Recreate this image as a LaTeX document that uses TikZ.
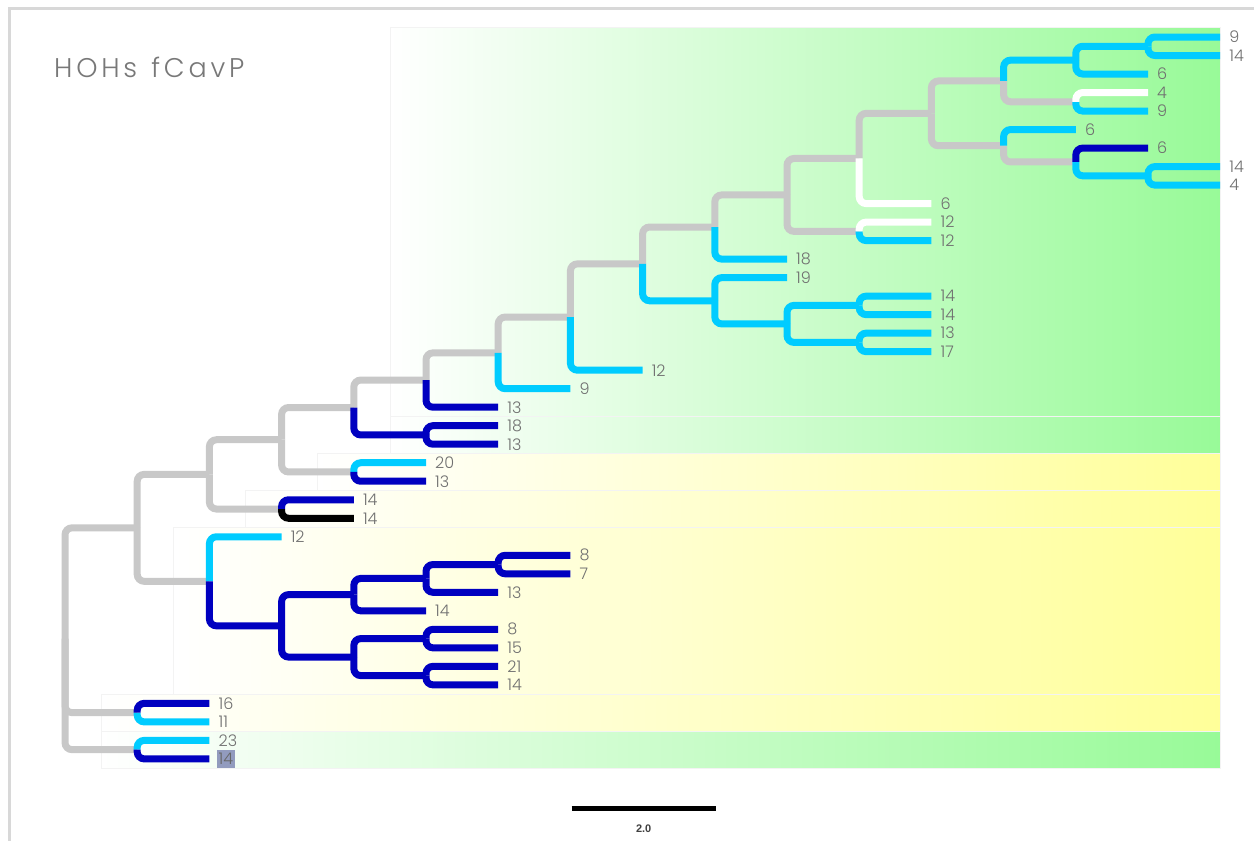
\documentclass[tikz,border=0pt]{standalone}
\usepackage{fontspec}
\setmainfont{Poppins}[UprightFont=* Light]
\newfontfamily\labfont{Poppins}[UprightFont=* Light]
\newfontfamily\titlefont{Poppins}[UprightFont=* Light, LetterSpace=14]
\newfontfamily\barfont{Liberation Sans}
\definecolor{brgray}{RGB}{200,200,200}
\definecolor{brcyan}{RGB}{0,204,255}
\definecolor{brblue}{RGB}{0,0,192}
\definecolor{labgray}{RGB}{112,112,112}
\definecolor{bggreen}{RGB}{152,250,152}
\definecolor{bgyellow}{RGB}{255,255,153}
\definecolor{boxline}{RGB}{243,243,243}
\definecolor{framegray}{RGB}{216,216,216}
\definecolor{hlfill}{RGB}{146,155,190}
\definecolor{titlegray}{RGB}{120,120,120}
% leaf tip: coordinate plus its label
\newcommand\tipleaf[4]{\coordinate (l#1) at ({lx(#2)},{ly(#3)}); \node[lab] (t#1) at (l#1) {#4};}
% internal node of the tree at level #2, row position #3
\newcommand\inode[3]{\coordinate (#1) at ({lx(#2)},{ly(#3)});}
\begin{document}
\begin{tikzpicture}[x=1pt,y=-1pt,
  declare function={lx(\k)=65+72.2*\k; ly(\i)=37+18.51*(\i-1);},
  br/.style={line width=7pt, rounded corners=7pt, line cap=butt},
  gr/.style={br, draw=brgray},
  cy/.style={br, draw=brcyan},
  db/.style={br, draw=brblue},
  wh/.style={br, draw=white},
  bk/.style={br, draw=black},
  lab/.style={anchor=west, xshift=9pt, inner sep=0pt, text=labgray, font=\labfont\fontsize{16}{16}\selectfont},
  gbox/.style={draw=boxline, line width=0.5pt, left color=white, right color=bggreen},
  ybox/.style={draw=boxline, line width=0.5pt, left color=white, right color=bgyellow},
]
\useasboundingbox (0,0) rectangle (1254,841);
\fill[white] (0,0) rectangle (1254,841);

% clade highlight bands
\shadedraw[gbox] ({lx(4.5)},{ly(0.5)}) rectangle ({lx(16)},{ly(21.5)});
\shadedraw[gbox] ({lx(4.5)},{ly(21.5)}) rectangle ({lx(16)},{ly(23.5)});
\shadedraw[ybox] ({lx(3.5)},{ly(23.5)}) rectangle ({lx(16)},{ly(25.5)});
\shadedraw[ybox] ({lx(2.5)},{ly(25.5)}) rectangle ({lx(16)},{ly(27.5)});
\shadedraw[ybox] ({lx(1.5)},{ly(27.5)}) rectangle ({lx(16)},{ly(36.5)});
\shadedraw[ybox] ({lx(0.5)},{ly(36.5)}) rectangle ({lx(16)},{ly(38.5)});
\shadedraw[gbox] ({lx(0.5)},{ly(38.5)}) rectangle ({lx(16)},{ly(40.5)});

% frame
\draw[framegray, line width=3pt] (9,841) -- (9,8.5) -- (1254,8.5);

% title
\node[anchor=west, inner sep=0pt, text=titlegray, font=\titlefont\fontsize{27}{27}\selectfont] (title) at (54,67) {HOHs\hspace{3pt} fCavP};

% internal nodes
\inode{c1x2}{15}{1.5}
\inode{c1x3}{14}{2.25}
\inode{c4x5}{14}{4.5}
\inode{c1x5}{13}{3.375}
\inode{c8x9}{15}{8.5}
\inode{c7x9}{14}{7.75}
\inode{c6x9}{13}{6.875}
\inode{c1x9}{12}{5.125}
\inode{c1x10}{11}{7.5625}
\inode{c11x12}{11}{11.5}
\inode{c1x12}{10}{9.53125}
\inode{c1x13}{9}{11.265625}
\inode{c15x16}{11}{15.5}
\inode{c17x18}{11}{17.5}
\inode{c15x18}{10}{16.5}
\inode{c14x18}{9}{15.25}
\inode{c1x18}{8}{13.2578125}
\inode{c1x19}{7}{16.12890625}
\inode{c1x20}{6}{18.064453}
\inode{c1x21}{5}{19.532227}
\inode{c22x23}{5}{22.5}
\inode{c1x23}{4}{21.016113}
\inode{c24x25}{4}{24.5}
\inode{c1x25}{3}{22.758057}
\inode{c26x27}{3}{26.5}
\inode{c1x27}{2}{24.629028}
\inode{c29x30}{6}{29.5}
\inode{c29x31}{5}{30.25}
\inode{c29x32}{4}{31.125}
\inode{c33x34}{5}{33.5}
\inode{c35x36}{5}{35.5}
\inode{c33x36}{4}{34.5}
\inode{c29x36}{3}{32.8125}
\inode{c28x36}{2}{30.40625}
\inode{c1x36}{1}{27.517654}
\inode{c37x38}{1}{37.5}
\inode{c39x40}{1}{39.5}
\inode{root}{0}{33.51}

% leaves
\tipleaf{1}{16}{1}{9}
\tipleaf{2}{16}{2}{14}
\tipleaf{3}{15}{3}{6}
\tipleaf{4}{15}{4}{4}
\tipleaf{5}{15}{5}{9}
\tipleaf{6}{14}{6}{6}
\tipleaf{7}{15}{7}{6}
\tipleaf{8}{16}{8}{14}
\tipleaf{9}{16}{9}{4}
\tipleaf{10}{12}{10}{6}
\tipleaf{11}{12}{11}{12}
\tipleaf{12}{12}{12}{12}
\tipleaf{13}{10}{13}{18}
\tipleaf{14}{10}{14}{19}
\tipleaf{15}{12}{15}{14}
\tipleaf{16}{12}{16}{14}
\tipleaf{17}{12}{17}{13}
\tipleaf{18}{12}{18}{17}
\tipleaf{19}{8}{19}{12}
\tipleaf{20}{7}{20}{9}
\tipleaf{21}{6}{21}{13}
\tipleaf{22}{6}{22}{18}
\tipleaf{23}{6}{23}{13}
\tipleaf{24}{5}{24}{20}
\tipleaf{25}{5}{25}{13}
\tipleaf{26}{4}{26}{14}
\tipleaf{27}{4}{27}{14}
\tipleaf{28}{3}{28}{12}
\tipleaf{29}{7}{29}{8}
\tipleaf{30}{7}{30}{7}
\tipleaf{31}{6}{31}{13}
\tipleaf{32}{5}{32}{14}
\tipleaf{33}{6}{33}{8}
\tipleaf{34}{6}{34}{15}
\tipleaf{35}{6}{35}{21}
\tipleaf{36}{6}{36}{14}
\tipleaf{37}{2}{37}{16}
\tipleaf{38}{2}{38}{11}
\tipleaf{39}{2}{39}{23}
\coordinate (l40) at ({lx(2)},{ly(40)});
\node[lab, fill=hlfill, inner xsep=1.5pt, inner ysep=3pt, xshift=-1.5pt, text=black!60] (t40) at (l40) {14};

% grey backbone branches
\foreach \p/\c in {c1x5/c4x5, c1x9/c1x5, c1x9/c6x9, c6x9/c7x9, c1x10/c1x9,
  c1x12/c1x10, c1x12/c11x12, c1x13/c1x12, c1x18/c1x13, c1x19/c1x18,
  c1x20/c1x19, c1x21/c1x20, c1x23/c1x21, c1x25/c1x23, c1x25/c24x25,
  c1x27/c1x25, c1x27/c26x27, c1x36/c1x27, c1x36/c28x36,
  root/c1x36, root/c37x38, root/c39x40}
  \draw[gr] (\p) |- (\c);

% light blue branches
\foreach \p/\c in {c1x3/c1x2, c1x2/l1, c1x2/l2, c1x3/l3, c1x5/c1x3, c4x5/l5,
  c6x9/l6, c7x9/c8x9, c8x9/l8, c8x9/l9, c11x12/l12, c1x13/l13,
  c1x18/c14x18, c14x18/l14, c14x18/c15x18, c15x18/c15x16, c15x18/c17x18,
  c15x16/l15, c15x16/l16, c17x18/l17, c17x18/l18, c1x19/l19, c1x20/l20,
  c24x25/l24, c28x36/l28, c37x38/l38, c39x40/l39}
  \draw[cy] (\p) |- (\c);

% dark blue branches
\foreach \p/\c in {c7x9/l7, c1x21/l21, c1x23/c22x23, c22x23/l22, c22x23/l23,
  c24x25/l25, c26x27/l26, c28x36/c29x36, c29x36/c29x32, c29x36/c33x36,
  c29x32/c29x31, c29x32/l32, c29x31/c29x30, c29x31/l31, c29x30/l29, c29x30/l30,
  c33x36/c33x34, c33x36/c35x36, c33x34/l33, c33x34/l34, c35x36/l35, c35x36/l36,
  c37x38/l37, c39x40/l40}
  \draw[db] (\p) |- (\c);

% white and black branches
\foreach \p/\c in {c4x5/l4, c1x10/l10, c11x12/l11}
  \draw[wh] (\p) |- (\c);
\draw[bk] (c26x27) |- (l27);

% scale bar
\coordinate (sb0) at (571.5,808);
\coordinate (sb1) at (715.9,808);
\draw[line width=5pt] (sb0) -- (sb1);
\node[font=\barfont\bfseries\fontsize{11}{11}\selectfont, text=black!75] (sblab) at (643.7,829) {2.0};
\end{tikzpicture}
\end{document}
